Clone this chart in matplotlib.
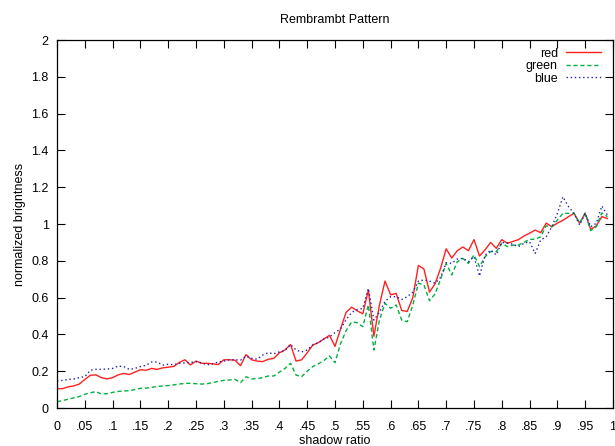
import numpy as np
import matplotlib
matplotlib.use("Agg")
import matplotlib.pyplot as plt

plt.rcParams['font.family'] = ['Liberation Sans', 'DejaVu Sans']

# shadow ratio, 0.00 .. 0.99
ratio = np.round(np.arange(0, 1.0, 0.01), 2)

red = [0.105, 0.105, 0.115, 0.12, 0.13, 0.155, 0.178, 0.18, 0.165, 0.158,
       0.165, 0.18, 0.188, 0.182, 0.195, 0.208, 0.205, 0.215, 0.21, 0.218,
       0.222, 0.226, 0.248, 0.262, 0.234, 0.255, 0.243, 0.243, 0.24, 0.236,
       0.262, 0.262, 0.26, 0.23, 0.29, 0.262, 0.255, 0.252, 0.265, 0.27,
       0.3, 0.315, 0.345, 0.255, 0.262, 0.3, 0.342, 0.355, 0.375, 0.395,
       0.335, 0.43, 0.52, 0.548, 0.528, 0.512, 0.64, 0.39, 0.56, 0.69,
       0.615, 0.623, 0.53, 0.525, 0.6, 0.775, 0.755, 0.63, 0.675, 0.76,
       0.865, 0.815, 0.855, 0.875, 0.855, 0.915, 0.826, 0.86, 0.9, 0.868,
       0.915, 0.895, 0.905, 0.915, 0.935, 0.95, 0.967, 0.953, 1.005, 0.985,
       1.005, 1.02, 1.04, 1.058, 1.004, 1.058, 0.97, 0.99, 1.04, 1.03]

green = [0.034, 0.04, 0.048, 0.055, 0.062, 0.075, 0.083, 0.089, 0.076, 0.078,
         0.085, 0.09, 0.093, 0.094, 0.1, 0.107, 0.108, 0.112, 0.117, 0.12,
         0.122, 0.126, 0.13, 0.134, 0.134, 0.132, 0.13, 0.132, 0.138, 0.145,
         0.15, 0.152, 0.156, 0.138, 0.17, 0.158, 0.16, 0.165, 0.174, 0.174,
         0.195, 0.215, 0.243, 0.179, 0.17, 0.2, 0.225, 0.24, 0.258, 0.283,
         0.246, 0.35, 0.42, 0.468, 0.463, 0.442, 0.56, 0.315, 0.478, 0.569,
         0.542, 0.56, 0.478, 0.469, 0.56, 0.678, 0.669, 0.583, 0.62, 0.7,
         0.786, 0.723, 0.795, 0.813, 0.786, 0.832, 0.768, 0.822, 0.85, 0.85,
         0.895, 0.877, 0.885, 0.886, 0.9, 0.917, 0.917, 0.931, 0.99, 0.985,
         1.022, 1.058, 1.058, 1.058, 1.004, 1.06, 0.964, 0.985, 1.06, 1.04]

blue = [0.148, 0.15, 0.155, 0.158, 0.165, 0.17, 0.205, 0.21, 0.21, 0.212,
        0.215, 0.228, 0.225, 0.21, 0.215, 0.225, 0.232, 0.25, 0.25, 0.233,
        0.238, 0.235, 0.243, 0.245, 0.248, 0.252, 0.245, 0.235, 0.24, 0.25,
        0.255, 0.262, 0.262, 0.26, 0.282, 0.27, 0.265, 0.288, 0.3, 0.295,
        0.305, 0.312, 0.345, 0.315, 0.305, 0.315, 0.342, 0.355, 0.375, 0.385,
        0.41, 0.43, 0.48, 0.52, 0.535, 0.542, 0.65, 0.478, 0.52, 0.58,
        0.605, 0.605, 0.59, 0.605, 0.63, 0.69, 0.696, 0.69, 0.678, 0.71,
        0.79, 0.786, 0.81, 0.813, 0.795, 0.822, 0.717, 0.83, 0.859, 0.832,
        0.9, 0.897, 0.89, 0.877, 0.895, 0.904, 0.84, 0.913, 0.931, 0.985,
        1.058, 1.148, 1.094, 1.058, 0.995, 1.058, 0.985, 1.004, 1.098, 1.049]

xticks = np.round(np.arange(0, 1.0001, 0.05), 2)
xtick_labels = ['0'] + [('%.2f' % t).lstrip('0').rstrip('0') for t in xticks[1:-1]] + ['1']
yticks = np.round(np.arange(0, 2.0001, 0.2), 1)
ytick_labels = ['0'] + ['%g' % t for t in yticks[1:]]

fig = plt.figure(figsize=(6.15, 4.46), dpi=100)
ax = fig.add_axes([0.0927, 0.0852, 0.904, 0.8251])

ax.plot(ratio, red, color='#ff2020', lw=1.0, label='red')
ax.plot(ratio, green, color='#00b040', lw=1.0, ls=(0, (3, 2)), label='green')
ax.plot(ratio, blue, color='#2020b0', lw=1.0, ls=(0, (1, 2)), label='blue')

ax.set_xlim(0, 1)
ax.set_ylim(0, 2)
ax.set_xticks(xticks)
ax.set_xticklabels(xtick_labels)
ax.set_yticks(yticks)
ax.set_yticklabels(ytick_labels)
ax.tick_params(direction='in', top=True, right=True, length=6, width=0.8, labelsize=9)
ax.tick_params(axis='x', pad=9)
ax.tick_params(axis='y', pad=6)
for s in ax.spines.values():
    s.set_linewidth(0.9)

ax.set_title('Rembrambt Pattern', fontsize=9, pad=12)
ax.set_xlabel('shadow ratio', fontsize=9, labelpad=2)
ax.set_ylabel('normalized brigntness', fontsize=9, labelpad=4)

leg = ax.legend(loc='upper right', bbox_to_anchor=(0.992, 1.0), frameon=False,
                markerfirst=False, fontsize=9, handlelength=2.8, handletextpad=0.65,
                labelspacing=0.05, borderaxespad=0.2)
for t in leg.get_texts():
    t.set_ha('right')

fig.savefig('out.png', dpi=100)
